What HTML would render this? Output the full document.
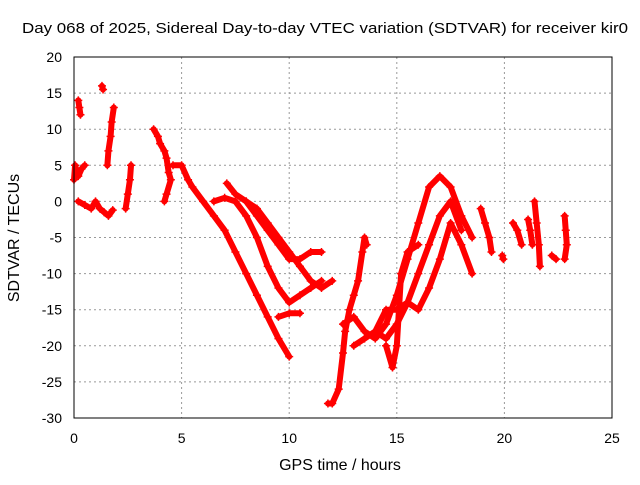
<!DOCTYPE html>
<html><head><meta charset="utf-8"><style>
body{margin:0;background:#fff}
svg text{font-family:"Liberation Sans",sans-serif;fill:#000}
</style></head><body>
<svg id="chart" width="640" height="480" xmlns="http://www.w3.org/2000/svg">
<rect width="640" height="480" fill="#fff"/>
<text x="22" y="33" font-size="15" textLength="606" lengthAdjust="spacingAndGlyphs">Day 068 of 2025, Sidereal Day-to-day VTEC variation (SDTVAR) for receiver kir0</text>
<text x="340" y="470" font-size="16" text-anchor="middle">GPS time / hours</text>
<text x="0" y="0" font-size="16" text-anchor="middle" transform="translate(19,238) rotate(-90)">SDTVAR / TECUs</text>
<g id="grid"></g><g id="marks"></g>
<rect x="74" y="57" width="538" height="361" fill="none" stroke="#000" stroke-width="1"/>
<g id="ticks"></g>
</svg>
<script>
const xTicks=[0,5,10,15,20,25];
const yTicks=[20,15,10,5,0,-5,-10,-15,-20,-25,-30];
const early1=[[0,3],[0.05,5],[0.2,3.5],[0.35,4.5],[0.5,5]];
const early2=[[0.2,0],[0.5,-0.5],[0.8,-1],[1.0,0],[1.2,-1],[1.4,-1.5],[1.6,-2],[1.8,-1.2]];
const spike1=[[0.2,14],[0.25,13],[0.3,12]];
const spike2=[[1.3,16],[1.35,15.5]];
const spike3=[[1.55,5],[1.6,7],[1.7,9],[1.75,11],[1.85,13]];
const spike4=[[2.4,-1],[2.5,1],[2.6,3],[2.65,5]];
const spike5=[[3.7,10],[3.9,9],[4.0,8],[4.2,7],[4.3,6],[4.4,4],[4.5,3],[4.3,1],[4.2,0]];
const trackA=[[4.6,5],[5,5],[5.3,3],[5.5,2],[6,0],[6.5,-2],[7,-4],[7.5,-7],[8,-10],[8.5,-13],[9,-16],[9.5,-19],[10,-21.5]];
const trackB=[[6.5,0],[7,0.5],[7.5,0],[8,-2],[8.5,-5],[9,-9],[9.5,-12],[10,-14],[10.5,-13],[11,-12],[11.5,-11]];
const trackC=[[7.1,2.5],[7.5,1],[8,0],[8.5,-2],[9,-4],[9.5,-6],[10,-8],[10.5,-8],[11,-7],[11.5,-7]];
const trackD=[[8,0],[8.5,-1],[9,-3],[9.5,-5],[10,-7],[10.5,-9],[11,-11],[11.5,-12],[12,-11]];
const trackE=[[9.5,-16],[10,-15.5],[10.5,-15.5]];
const trough=[[11.8,-28],[12,-28],[12.3,-26],[12.5,-21],[12.6,-18],[12.8,-15],[13,-13],[13.2,-11],[13.4,-7],[13.5,-5],[13.6,-6]];
const trackF=[[12.5,-17],[13,-16],[13.5,-18],[14,-19],[14.5,-17],[15,-13],[15.5,-8],[16,-3],[16.5,2],[17,3.5],[17.5,2],[18,-2],[18.5,-5]];
const trackG=[[13,-20],[13.5,-19],[14,-18],[14.5,-15],[15,-15],[15.5,-14],[16,-10],[16.5,-6],[17,-2],[17.5,0],[18,-4]];
const trackH=[[14,-18],[14.5,-19],[15,-17],[15.5,-14],[16,-15],[16.5,-12],[17,-8],[17.5,-3],[18,-6],[18.5,-10]];
const trackI=[[14.5,-20],[14.8,-23],[15,-20],[15.2,-10],[15.5,-7],[16,-6]];
const late1=[[18.9,-1],[19.1,-3],[19.3,-5],[19.4,-7]];
const late2=[[19.9,-7.5],[19.95,-8]];
const late3=[[20.4,-3],[20.6,-4],[20.8,-6]];
const late4=[[21.1,-2.5],[21.2,-4],[21.3,-6]];
const late5=[[21.4,0],[21.5,-3],[21.6,-6],[21.65,-9]];
const late6=[[22.2,-7.5],[22.4,-8]];
const late7=[[22.8,-2],[22.85,-4],[22.9,-6],[22.8,-8]];
const series=[early1,early2,spike1,spike2,spike3,spike4,spike5,trackA,trackB,trackC,trackD,trackE,trough,trackF,trackG,trackH,trackI,late1,late2,late3,late4,late5,late6,late7];
const X=t=>74+t*21.52, Y=v=>57+(20-v)*7.22;
const NS="http://www.w3.org/2000/svg";
const g=document.getElementById('grid'),tk=document.getElementById('ticks'),mk=document.getElementById('marks');
function el(n,a,p){const e=document.createElementNS(NS,n);for(const k in a)e.setAttribute(k,a[k]);p.appendChild(e);return e;}
xTicks.forEach(t=>{const x=X(t);
 if(t>0&&t<25){const l=el('line',{x1:x,x2:x,y1:57,y2:418,stroke:'#999','stroke-dasharray':'2,3'},g);}
 const s=el('text',{x:x,y:443,'font-size':14,'text-anchor':'middle'},tk);s.textContent=t;
 
 });
yTicks.forEach(v=>{const y=Y(v);
 if(v<20&&v>-30){const l=el('line',{x1:74,x2:612,y1:y,y2:y,stroke:'#999','stroke-dasharray':'2,3'},g);}
 const s=el('text',{x:62,y:y+5,'font-size':14,'text-anchor':'end'},tk);s.textContent=v;
 
 });
series.forEach(sr=>{
 const pl=el('polyline',{points:sr.map(p=>X(p[0])+','+Y(p[1])).join(' '),fill:'none',stroke:'#f00','stroke-width':6,'stroke-linejoin':'round','stroke-linecap':'round'},mk);
 
 
 sr.forEach(p=>{const x=X(p[0]),y=Y(p[1]);
  const m=el('path',{d:`M${x-4},${y}H${x+4}M${x},${y-4}V${y+4}`,stroke:'#f00','stroke-width':1.5},mk);
  
  });
});
</script>
</body></html>
